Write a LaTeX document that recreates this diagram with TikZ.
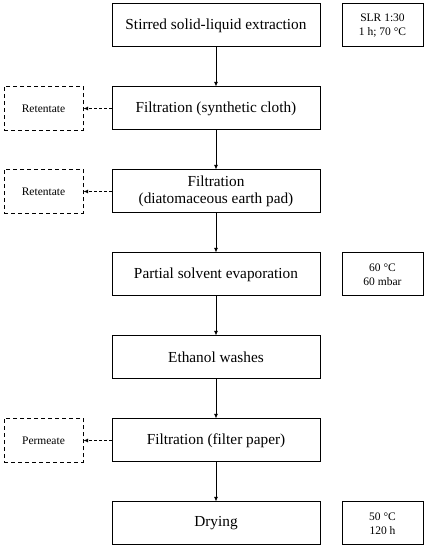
\documentclass[tikz,border=0pt]{standalone}
\usepackage{fontspec}
\setmainfont{Liberation Serif}
\usetikzlibrary{positioning}
\usetikzlibrary{arrows.meta}

\tikzset{
  procbox/.style={draw, line width=1pt, minimum width=208pt, minimum height=43pt,
    align=center, inner sep=1pt, font=\fontsize{15.3}{17.5}\selectfont},
  condbox/.style={draw, line width=1pt, minimum width=81pt, minimum height=43pt,
    align=center, inner sep=1pt, font=\fontsize{11.5}{13.5}\selectfont},
  wastebox/.style={draw, line width=1pt, dash pattern=on 4pt off 3pt,
    minimum width=79pt, minimum height=44pt, align=center, font=\fontsize{11.5}{13.5}\selectfont},
  flow/.style={-{Latex[length=4.5pt,width=4pt]}, line width=0.9pt},
  waste/.style={-{Latex[length=4.5pt,width=4pt]}, line width=0.9pt, dash pattern=on 3pt off 2pt},
}

\begin{document}
\begin{tikzpicture}[x=1pt,y=1pt]
  \useasboundingbox (0,0) rectangle (427,550);

  % main process steps
  \node[procbox] (extr) at (216,524.5) {Stirred solid-liquid extraction};
  \node[procbox, below=39pt of extr] (filtcloth) {Filtration (synthetic cloth)};
  \node[procbox, below=39pt of filtcloth] (filtpad) {Filtration\\(diatomaceous earth pad)};
  \node[procbox, below=39pt of filtpad] (evap) {Partial solvent evaporation};
  \node[procbox, below=39pt of evap] (wash) {Ethanol washes};
  \node[procbox, below=39pt of wash] (filtpaper) {Filtration (filter paper)};
  \node[procbox, below=39pt of filtpaper] (dry) {Drying};

  % conditions
  \node[condbox, right=21pt of extr] (condextr) {SLR 1:30\\1 h; 70 °C};
  \node[condbox, right=21pt of evap] (condevap) {60 °C\\60 mbar};
  \node[condbox, right=21pt of dry] (conddry) {50 °C\\120 h};

  % side streams
  \node[wastebox, left=28pt of filtcloth] (ret1) {Retentate};
  \node[wastebox, left=28pt of filtpad] (ret2) {Retentate};
  \node[wastebox, left=28pt of filtpaper] (perm) {Permeate};

  \draw[flow] (extr) -- (filtcloth);
  \draw[flow] (filtcloth) -- (filtpad);
  \draw[flow] (filtpad) -- (evap);
  \draw[flow] (evap) -- (wash);
  \draw[flow] (wash) -- (filtpaper);
  \draw[flow] (filtpaper) -- (dry);

  \draw[waste] (filtcloth) -- (ret1);
  \draw[waste] (filtpad) -- (ret2);
  \draw[waste] (filtpaper) -- (perm);
\end{tikzpicture}
\end{document}
